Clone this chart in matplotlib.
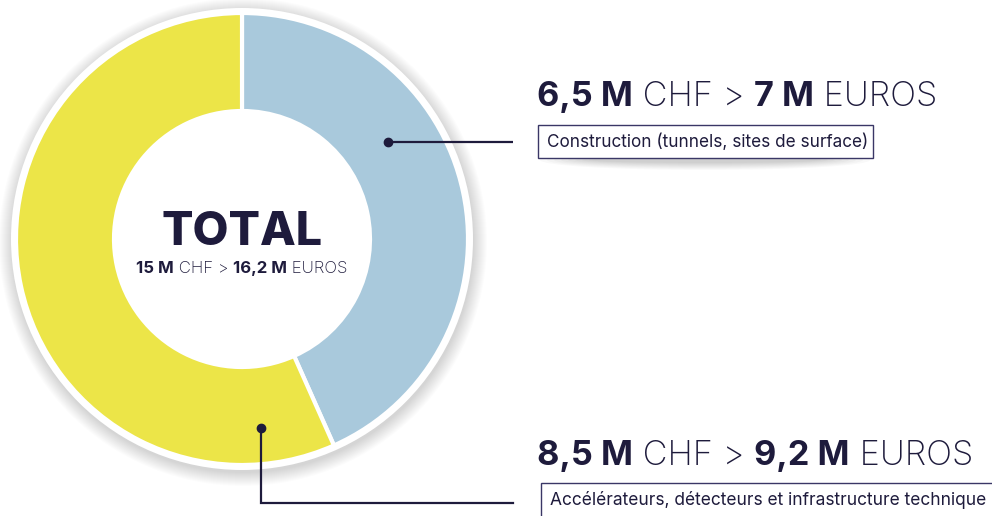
import matplotlib.pyplot as plt
from matplotlib.patches import Circle, Rectangle, Ellipse

# budget split (millions)
categories = ["Construction (tunnels, sites de surface)",
              "Accélérateurs, détecteurs et infrastructure technique"]
chf = [6.5, 8.5]
chf_txt = ["6,5 M", "8,5 M"]
eur_txt = ["7 M", "9,2 M"]
total_chf = "15 M"
total_eur = "16,2 M"
colors = ["#a9c9dc", "#ece548"]

navy = "#1e1b3c"
W, H = 992, 516
FONT = "Inter"

fig = plt.figure(figsize=(W / 100, H / 100), dpi=100)
ax = fig.add_axes([0, 0, 1, 1])
rend = fig.canvas.get_renderer()


def Y(y):
    # pixel row -> data y
    return H - y


def run(x, y, parts, size, center=False):
    # draw mixed-weight pieces of text one after another
    arts = []
    cur = x
    for s, w in parts:
        t = ax.text(cur, Y(y), s, fontsize=size, fontweight=w, color=navy,
                    family=FONT, va="baseline", ha="left")
        wid = t.get_window_extent(rend).width
        arts.append((t, cur))
        cur += wid
    if center:
        shift = (cur - x) / 2
        for t, cx in arts:
            t.set_x(cx - shift)
    return cur


cx, cy = 242, 239
r_out, r_in = 226, 128

# soft shadow + white rim
for i in range(14):
    ax.add_patch(Circle((cx + 1, Y(cy + 3)), r_out + 5 + i, color="black",
                        alpha=0.010, lw=0, zorder=1))
ax.add_patch(Circle((cx, Y(cy)), r_out + 5, color="white", lw=0, zorder=2))

ax.pie(chf, colors=colors, startangle=90, counterclock=False, radius=r_out,
       center=(cx, Y(cy)), frame=True,
       wedgeprops=dict(width=r_out - r_in, edgecolor="white", linewidth=3.0,
                       zorder=3))

ax.set_xlim(0, W)
ax.set_ylim(0, H)
ax.axis("off")

# centre label
ax.text(cx, Y(245), "TOTAL", fontsize=33.5, fontweight="heavy", color=navy,
        family=FONT, ha="center", va="baseline")
run(cx, 273, [(total_chf, "bold"), (" CHF > ", "light"), (total_eur, "bold"),
              (" EUROS", "light")], 12.1, center=True)

# callout 1
ax.plot([388, 513], [Y(142), Y(142)], color=navy, lw=1.6, zorder=5,
        solid_capstyle="butt")
ax.plot(388, Y(142), "o", color=navy, ms=6, zorder=6)
run(537, 106, [(chf_txt[0], "bold"), (" CHF > ", "light"), (eur_txt[0], "bold"),
               (" EUROS", "light")], 24.7)
for k in range(8):
    ax.add_patch(Ellipse((705, Y(160)), 330 - k * 14, 20 - k * 2,
                         color="black", alpha=0.025, lw=0, zorder=4))
ax.add_patch(Rectangle((538, Y(158)), 335, 33, facecolor="white",
                       edgecolor="#3a3766", lw=1.0, zorder=5))
ax.text(547, Y(142), categories[0], fontsize=12.35, color=navy, family=FONT,
        va="center", ha="left", zorder=6)

# callout 2
ax.plot([261, 261, 513], [Y(428), Y(503), Y(503)], color=navy, lw=1.6,
        zorder=5, solid_joinstyle="miter")
ax.plot(261, Y(428), "o", color=navy, ms=6, zorder=6)
run(537, 465, [(chf_txt[1], "bold"), (" CHF > ", "light"), (eur_txt[1], "bold"),
               (" EUROS", "light")], 24.7)
ax.add_patch(Rectangle((541, Y(520)), 460, 37, facecolor="white",
                       edgecolor="#3a3766", lw=1.0, zorder=5))
ax.text(550, Y(500), categories[1], fontsize=12.5, color=navy, family=FONT,
        va="center", ha="left", zorder=6)

fig.savefig("out.png", dpi=100)
